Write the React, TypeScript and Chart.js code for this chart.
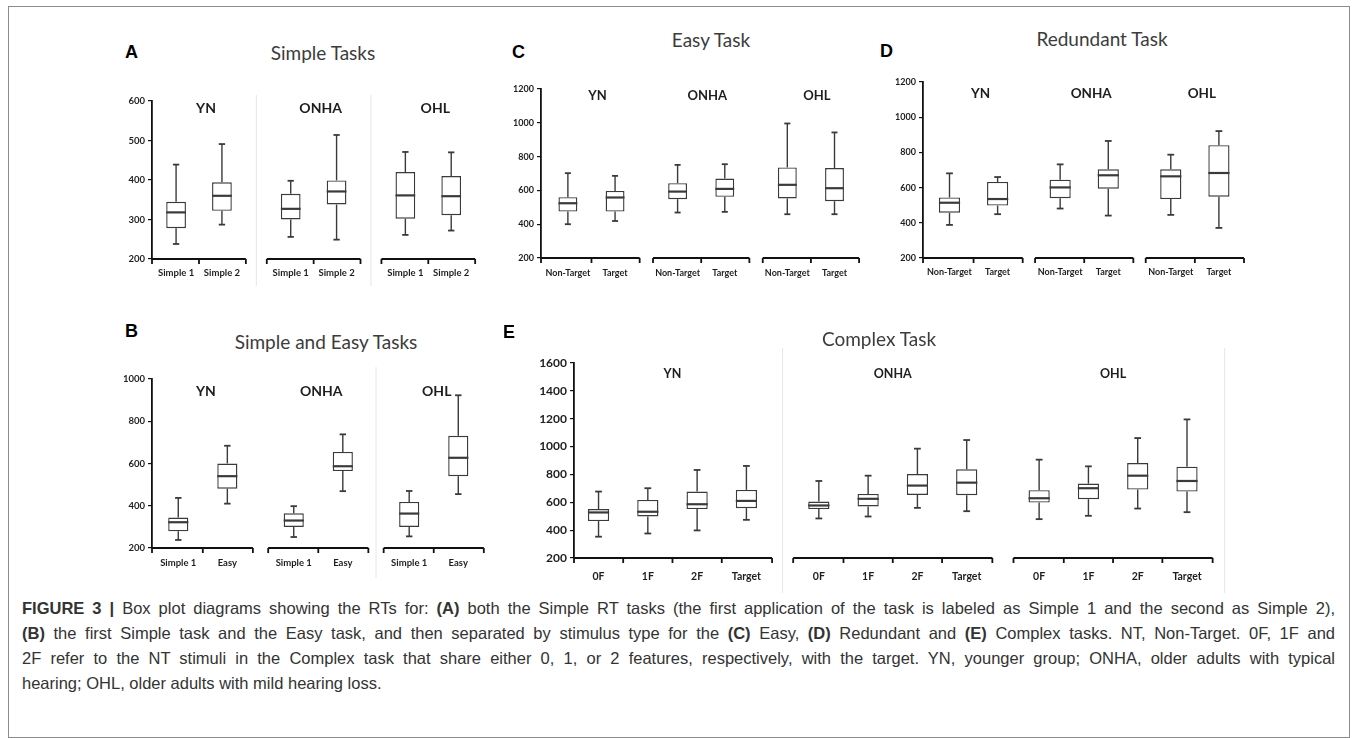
import React, { useEffect, useRef } from "react";
import { Chart, registerables } from "chart.js";

Chart.register(...registerables);

// ---------------- DATA ----------------
// Each entry: [min, Q1, median, Q3, max] for the groups YN, ONHA, OHL
const groups = ["YN", "ONHA", "OHL"];

// Panel A – Simple Tasks
const aConditions = ["Simple 1", "Simple 2"];
const aSimple1 = [[238, 278, 318, 345, 439], [256, 300, 327, 365, 398], [261, 302, 361, 420, 471]];
const aSimple2 = [[287, 322, 360, 394, 491], [249, 338, 371, 399, 514], [272, 311, 359, 410, 470]];
const aTicks = [200, 300, 400, 500, 600];

// Panel B – Simple and Easy Tasks
const bConditions = ["Simple 1", "Easy"];
const bSimple1 = [[238, 279, 322, 344, 437], [252, 300, 330, 364, 398], [255, 300, 363, 418, 470]];
const bEasy = [[410, 481, 540, 600, 684], [469, 564, 587, 655, 738], [455, 540, 627, 731, 923]];
const bTicks = [200, 400, 600, 800, 1000];

// Panel C – Easy Task
const cConditions = ["Non-Target", "Target"];
const cNonTarget = [[400, 475, 524, 560, 702], [469, 548, 593, 643, 751], [459, 552, 633, 736, 996]];
const cTarget = [[419, 475, 558, 597, 686], [473, 562, 609, 670, 755], [459, 536, 613, 732, 943]];
const cTicks = [200, 400, 600, 800, 1000, 1200];

// Panel D – Redundant Task
const dConditions = ["Non-Target", "Target"];
const dNonTarget = [[388, 457, 514, 544, 681], [481, 540, 601, 645, 732], [445, 535, 664, 704, 787]];
const dTarget = [[449, 498, 535, 632, 660], [441, 594, 670, 704, 865], [371, 548, 683, 841, 921]];
const dTicks = [200, 400, 600, 800, 1000, 1200];

// Panel E – Complex Task
const eConditions = ["0F", "1F", "2F", "Target"];
const e0F = [[353, 465, 527, 551, 677], [484, 551, 577, 605, 753], [479, 598, 629, 687, 906]];
const e1F = [[376, 498, 532, 617, 701], [498, 570, 625, 660, 791], [503, 622, 701, 734, 858]];
const e2F = [[398, 551, 586, 677, 832], [560, 653, 720, 803, 985], [555, 691, 791, 882, 1061]];
const eTarget = [[474, 558, 610, 689, 861], [536, 651, 741, 837, 1047], [529, 677, 753, 856, 1195]];
const eTicks = [200, 400, 600, 800, 1000, 1200, 1400, 1600];

// ---------------- LAYOUT / STYLE ----------------
const LINE = "#3a3a3a";
const AXIS = "#111111";
const TEXT = "#1e1e1e";
const FONT = "Lato, 'Open Sans', sans-serif";

type PanelSpec = {
  key: string;
  conditions: string[];
  series: number[][][];
  ticks: number[];
  box: [number, number, number, number];
  area: [number, number, number, number];
  xMin: number;
  xMax: number;
  catPct: number;
  barPct: number;
  tickFont: number;
  groupFont: number;
  subFont: number;
  groupDy: number;
  groupDx: number;
  subDy: number;
  seps: number[];
  sepTop: number;
  sepBottom: number;
  edgeRight: boolean;
};

const panels: PanelSpec[] = [
  {
    key: "A", conditions: aConditions, series: [aSimple1, aSimple2], ticks: aTicks,
    box: [95, 80, 390, 215], area: [152, 101, 473, 259], xMin: -0.41, xMax: 2.39,
    catPct: 0.8, barPct: 0.43, tickFont: 9.5, groupFont: 14, subFont: 9.5, groupDy: 7, groupDx: 7, subDy: 14,
    seps: [0, 1], sepTop: 6, sepBottom: 27, edgeRight: false,
  },
  {
    key: "B", conditions: bConditions, series: [bSimple1, bEasy], ticks: bTicks,
    box: [95, 360, 390, 225], area: [152, 379, 473, 548], xMin: -0.44, xMax: 2.34,
    catPct: 0.85, barPct: 0.41, tickFont: 9.5, groupFont: 14, subFont: 9.5, groupDy: 12, groupDx: 3, subDy: 15,
    seps: [1], sepTop: 12, sepBottom: 30, edgeRight: false,
  },
  {
    key: "C", conditions: cConditions, series: [cNonTarget, cTarget], ticks: cTicks,
    box: [490, 75, 375, 215], area: [541, 89, 857, 258], xMin: -0.46, xMax: 2.42,
    catPct: 0.86, barPct: 0.4, tickFont: 9, groupFont: 13, subFont: 9, groupDy: 7, groupDx: 6, subDy: 15,
    seps: [], sepTop: 0, sepBottom: 0, edgeRight: false,
  },
  {
    key: "D", conditions: dConditions, series: [dNonTarget, dTarget], ticks: dTicks,
    box: [870, 70, 380, 220], area: [923, 82, 1238, 258], xMin: -0.457, xMax: 2.39,
    catPct: 0.87, barPct: 0.44, tickFont: 9, groupFont: 13.5, subFont: 9, groupDy: 12, groupDx: 7, subDy: 14,
    seps: [], sepTop: 0, sepBottom: 0, edgeRight: false,
  },
  {
    key: "E", conditions: eConditions, series: [e0F, e1F, e2F, eTarget], ticks: eTicks,
    box: [515, 340, 720, 255], area: [574, 363, 1210, 558], xMin: -0.447, xMax: 2.44,
    catPct: 0.895, barPct: 0.43, tickFont: 12, groupFont: 12.5, subFont: 10.5, groupDy: 11, groupDx: 0, subDy: 19,
    seps: [0], sepTop: 15, sepBottom: 35, edgeRight: true,
  },
];

const titles = [
  { text: "Simple Tasks", x: 323, y: 52 },
  { text: "Easy Task", x: 711, y: 39 },
  { text: "Redundant Task", x: 1102, y: 38 },
  { text: "Simple and Easy Tasks", x: 326, y: 341 },
  { text: "Complex Task", x: 879, y: 338 },
];

const letters = [
  { text: "A", x: 125, y: 52 },
  { text: "B", x: 125, y: 331 },
  { text: "C", x: 512, y: 52 },
  { text: "D", x: 880, y: 51 },
  { text: "E", x: 503, y: 332 },
];

// ---------------- PLUGIN ----------------
const boxAxisPlugin = {
  id: "boxAxis",
  afterDraw(chart: any, _args: any, opts: any) {
    const ctx = chart.ctx;
    const ys = chart.scales.y;
    const area = chart.chartArea;
    const nds = chart.data.datasets.length;
    const line = (x1: number, y1: number, x2: number, y2: number) => {
      ctx.beginPath();
      ctx.moveTo(x1, y1);
      ctx.lineTo(x2, y2);
      ctx.stroke();
    };

    const geo: { left: number; right: number; center: number; slot: number; xs: number[] }[] = [];
    for (let g = 0; g < groups.length; g++) {
      const xs: number[] = [];
      for (let i = 0; i < nds; i++) xs.push(chart.getDatasetMeta(i).data[g].x);
      const slot = xs[1] - xs[0];
      let left = xs[0] - slot / 2 - 1;
      const right = xs[xs.length - 1] + slot / 2 + 1;
      if (g === 0) left = area.left;
      geo.push({ left, right, center: (xs[0] + xs[xs.length - 1]) / 2, slot, xs });
    }

    ctx.save();
    ctx.strokeStyle = "#e6e6e6";
    ctx.lineWidth = 1;
    (opts.seps || []).forEach((g: number) => {
      const x = (geo[g].right + geo[g + 1].left) / 2;
      line(x, area.top - opts.sepTop, x, area.bottom + opts.sepBottom);
    });
    if (opts.edgeRight) {
      const x = geo[geo.length - 1].right + 12;
      line(x, area.top - opts.sepTop, x, area.bottom + opts.sepBottom);
    }

    chart.data.datasets.forEach((ds: any, i: number) => {
      const meta = chart.getDatasetMeta(i);
      meta.data.forEach((bar: any, j: number) => {
        const [mn, q1, md, q3, mx] = ds.stats[j];
        const x = bar.x;
        const w = bar.width;
        const cap = w * 0.16;
        ctx.strokeStyle = LINE;
        ctx.lineWidth = 1.4;
        line(x, ys.getPixelForValue(q3), x, ys.getPixelForValue(mx));
        line(x, ys.getPixelForValue(q1), x, ys.getPixelForValue(mn));
        ctx.lineWidth = 1.8;
        line(x - cap, ys.getPixelForValue(mx), x + cap, ys.getPixelForValue(mx));
        line(x - cap, ys.getPixelForValue(mn), x + cap, ys.getPixelForValue(mn));
        ctx.lineWidth = 2.2;
        line(x - w / 2, ys.getPixelForValue(md), x + w / 2, ys.getPixelForValue(md));
      });
    });

    ctx.strokeStyle = AXIS;
    ctx.lineWidth = 1.8;
    geo.forEach((gg) => {
      line(gg.left, area.bottom, gg.right, area.bottom);
      const ticksX = [gg.left, ...gg.xs.slice(0, -1).map((x) => x + gg.slot / 2), gg.right];
      ticksX.forEach((tx) => line(tx, area.bottom, tx, area.bottom + 5));
    });

    ctx.fillStyle = TEXT;
    ctx.textAlign = "center";
    ctx.textBaseline = "middle";
    ctx.font = `bold ${opts.groupFont}px ${FONT}`;
    geo.forEach((gg, g) => ctx.fillText(groups[g], gg.center + opts.groupDx, area.top + opts.groupDy));
    ctx.font = `bold ${opts.subFont}px ${FONT}`;
    geo.forEach((gg) => {
      gg.xs.forEach((x, i) => ctx.fillText(chart.data.datasets[i].label, x, area.bottom + opts.subDy));
    });
    ctx.restore();
  },
};

function makeConfig(p: PanelSpec): any {
  const datasets = p.series.map((s, i) => ({
    label: p.conditions[i],
    data: s.map((st, g) => ({ x: g, y: [st[1], st[3]] })),
    stats: s,
    backgroundColor: "#ffffff",
    borderColor: LINE,
    borderWidth: 1.4,
    borderSkipped: false,
    categoryPercentage: p.catPct,
    barPercentage: p.barPct,
  }));
  return {
    type: "bar",
    data: { datasets },
    plugins: [boxAxisPlugin],
    options: {
      animation: false,
      responsive: true,
      maintainAspectRatio: false,
      layout: {
        padding: {
          left: 0,
          top: p.area[1] - p.box[1],
          bottom: p.box[1] + p.box[3] - p.area[3],
          right: p.box[0] + p.box[2] - p.area[2],
        },
      },
      plugins: {
        legend: { display: false },
        tooltip: { enabled: false },
        title: { display: false },
        boxAxis: {
          groupFont: p.groupFont,
          subFont: p.subFont,
          groupDy: p.groupDy,
          groupDx: p.groupDx,
          subDy: p.subDy,
          seps: p.seps,
          sepTop: p.sepTop,
          sepBottom: p.sepBottom,
          edgeRight: p.edgeRight,
        },
      },
      scales: {
        x: {
          type: "linear",
          display: false,
          offset: false,
          min: p.xMin,
          max: p.xMax,
          afterBuildTicks: (s: any) => {
            s.ticks = groups.map((_, g) => ({ value: g }));
          },
        },
        y: {
          type: "linear",
          min: p.ticks[0],
          max: p.ticks[p.ticks.length - 1],
          afterBuildTicks: (s: any) => {
            s.ticks = p.ticks.map((v) => ({ value: v }));
          },
          afterFit: (s: any) => {
            s.width = p.area[0] - p.box[0];
          },
          border: { display: true, color: AXIS, width: 1.8 },
          grid: { drawOnChartArea: false, drawTicks: true, tickLength: 4, color: AXIS, lineWidth: 1.2 },
          ticks: {
            color: TEXT,
            padding: 3,
            font: { family: FONT, weight: "bold", size: p.tickFont },
            callback: (v: any) => String(v),
          },
        },
      },
    },
  };
}

function PanelChart({ p }: { p: PanelSpec }) {
  const ref = useRef<HTMLCanvasElement | null>(null);
  useEffect(() => {
    if (!ref.current) return;
    const chart = new Chart(ref.current, makeConfig(p));
    return () => chart.destroy();
  }, [p]);
  return (
    <div style={{ position: "absolute", left: p.box[0], top: p.box[1], width: p.box[2], height: p.box[3] }}>
      <canvas ref={ref} />
    </div>
  );
}

const captionLines: { b?: string; t: string }[][] = [
  [
    { b: "FIGURE 3 |", t: " Box plot diagrams showing the RTs for: " },
    { b: "(A)", t: " both the Simple RT tasks (the first application of the task is labeled as Simple 1 and the second as Simple 2)," },
  ],
  [
    { b: "(B)", t: " the first Simple task and the Easy task, and then separated by stimulus type for the " },
    { b: "(C)", t: " Easy, " },
    { b: "(D)", t: " Redundant and " },
    { b: "(E)", t: " Complex tasks. NT, Non-Target. 0F, 1F and" },
  ],
  [{ t: "2F refer to the NT stimuli in the Complex task that share either 0, 1, or 2 features, respectively, with the target. YN, younger group; ONHA, older adults with typical" }],
  [{ t: "hearing; OHL, older adults with mild hearing loss." }],
];

export default function App() {
  return (
    <div style={{ position: "absolute", left: 0, top: 0, width: 1354, height: 738, background: "#fff", overflow: "hidden" }}>
      <div style={{ position: "absolute", left: 8, top: 6, width: 1340, height: 730, border: "1px solid #8c8c8c" }} />
      {panels.map((p) => (
        <PanelChart key={p.key} p={p} />
      ))}
      {titles.map((t) => (
        <div
          key={t.text}
          style={{
            position: "absolute", left: t.x, top: t.y, transform: "translate(-50%, -50%)",
            fontFamily: FONT, fontSize: 19, color: "#3c3c3c", whiteSpace: "nowrap", lineHeight: 1,
          }}
        >
          {t.text}
        </div>
      ))}
      {letters.map((l) => (
        <div
          key={l.text}
          style={{
            position: "absolute", left: l.x, top: l.y, transform: "translateY(-50%)",
            fontFamily: "'Liberation Sans', Arial, sans-serif", fontWeight: "bold", fontSize: 18, color: "#000", lineHeight: 1,
          }}
        >
          {l.text}
        </div>
      ))}
      <div style={{ position: "absolute", left: 22, top: 596, width: 1313, fontFamily: "'Liberation Sans', Arial, sans-serif", fontSize: 16.5, lineHeight: "25px", color: "#333" }}>
        {captionLines.map((ln, i) => (
          <div
            key={i}
            style={{
              whiteSpace: "nowrap",
              textAlign: i < captionLines.length - 1 ? "justify" : "left",
              textAlignLast: i < captionLines.length - 1 ? "justify" : "left",
            } as any}
          >
            {ln.map((seg, k) => (
              <React.Fragment key={k}>
                {seg.b ? <b>{seg.b}</b> : null}
                {seg.t}
              </React.Fragment>
            ))}
          </div>
        ))}
      </div>
    </div>
  );
}
